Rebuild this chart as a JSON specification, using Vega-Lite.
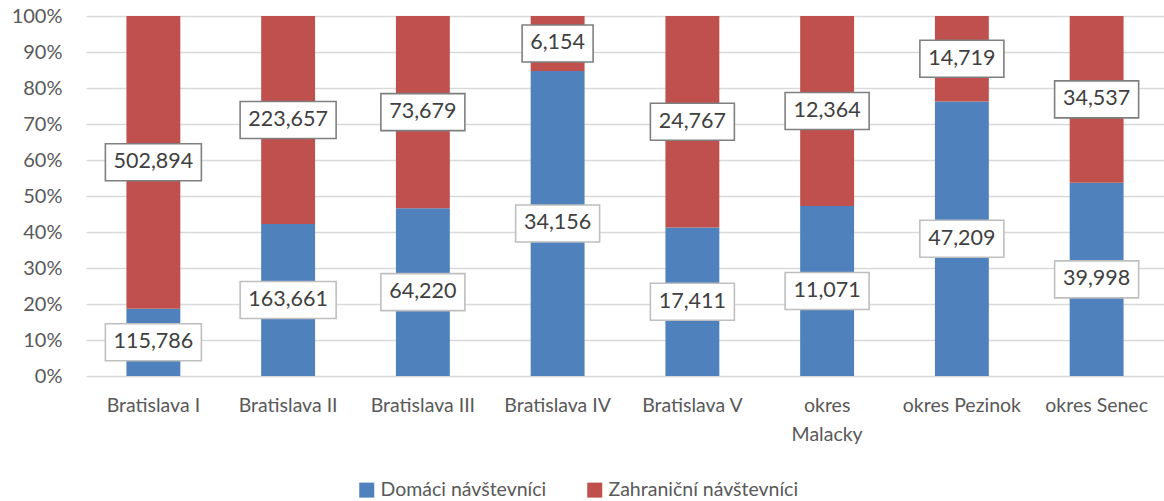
{
  "$schema": "https://vega.github.io/schema/vega-lite/v6.json",
  "width": 1078,
  "height": 360,
  "autosize": "none",
  "padding": {"left": 86, "top": 16, "right": 0, "bottom": 125},
  "background": "white",
  "config": {"view": {"stroke": null}, "font": "Lato"},
  "data": {
    "values": [
      {"district": "Bratislava I", "type": "Domáci návštevníci", "value": 115786},
      {"district": "Bratislava I", "type": "Zahraniční návštevníci", "value": 502894},
      {"district": "Bratislava II", "type": "Domáci návštevníci", "value": 163661},
      {"district": "Bratislava II", "type": "Zahraniční návštevníci", "value": 223657},
      {"district": "Bratislava III", "type": "Domáci návštevníci", "value": 64220},
      {"district": "Bratislava III", "type": "Zahraniční návštevníci", "value": 73679},
      {"district": "Bratislava IV", "type": "Domáci návštevníci", "value": 34156},
      {"district": "Bratislava IV", "type": "Zahraniční návštevníci", "value": 6154},
      {"district": "Bratislava V", "type": "Domáci návštevníci", "value": 17411},
      {"district": "Bratislava V", "type": "Zahraniční návštevníci", "value": 24767},
      {"district": "okres Malacky", "type": "Domáci návštevníci", "value": 11071},
      {"district": "okres Malacky", "type": "Zahraniční návštevníci", "value": 12364},
      {"district": "okres Pezinok", "type": "Domáci návštevníci", "value": 47209},
      {"district": "okres Pezinok", "type": "Zahraniční návštevníci", "value": 14719},
      {"district": "okres Senec", "type": "Domáci návštevníci", "value": 39998},
      {"district": "okres Senec", "type": "Zahraniční návštevníci", "value": 34537}
    ]
  },
  "encoding": {
    "x": {
      "field": "district",
      "type": "nominal",
      "sort": ["Bratislava I", "Bratislava II", "Bratislava III", "Bratislava IV", "Bratislava V", "okres Malacky", "okres Pezinok", "okres Senec"],
      "scale": {"paddingInner": 0.6, "paddingOuter": 0.3},
      "axis": {
        "title": null,
        "labelAngle": 0,
        "domain": false,
        "ticks": false,
        "grid": false,
        "labelFont": "Lato",
        "labelFontSize": 19.5,
        "labelColor": "#595959",
        "labelPadding": 20,
        "labelLineHeight": 29,
        "labelOverlap": false,
        "labelLimit": 0,
        "labelExpr": "datum.label == 'okres Malacky' ? ['okres', 'Malacky'] : datum.label"
      }
    },
    "order": {"field": "type", "sort": "ascending"}
  },
  "layer": [
    {
      "mark": {"type": "bar"},
      "encoding": {
        "y": {
          "field": "value",
          "type": "quantitative",
          "stack": "normalize",
          "scale": {"domain": [0, 1]},
          "axis": {"title": null, "values": [0, 0.1, 0.2, 0.3, 0.4, 0.5, 0.6, 0.7, 0.8, 0.9, 1], "format": ".0%", "domain": false, "ticks": false, "grid": true, "gridColor": "#d9d9d9", "gridWidth": 1.3, "labelFont": "Lato", "labelFontSize": 20, "labelColor": "#595959", "labelPadding": 24, "labelOverlap": false}
        },
        "color": {
          "field": "type",
          "type": "nominal",
          "scale": {"domain": ["Domáci návštevníci", "Zahraniční návštevníci"], "range": ["#4f81bd", "#c0504d"]},
          "legend": {
            "title": null,
            "orient": "none",
            "legendX": 271,
            "legendY": 464,
            "direction": "horizontal",
            "symbolType": "square",
            "symbolSize": 225,
            "symbolStrokeWidth": 0,
            "symbolOpacity": 1,
            "labelFont": "Lato",
            "labelFontSize": 19.5,
            "labelColor": "#595959",
            "labelOffset": 4,
            "labelLimit": 0,
            "columnPadding": 38
          }
        }
      }
    },
    {
      "mark": {"type": "point", "shape": "M-48,-18.5H48V18.5H-48Z", "size": 4, "fill": "white", "fillOpacity": 1, "strokeWidth": 1.6},
      "encoding": {
        "y": {"field": "value", "type": "quantitative", "stack": "normalize", "bandPosition": 0.5, "scale": {"domain": [0, 1]}, "axis": {"title": null, "values": [0, 0.1, 0.2, 0.3, 0.4, 0.5, 0.6, 0.7, 0.8, 0.9, 1], "format": ".0%", "domain": false, "ticks": false, "grid": true, "gridColor": "#d9d9d9", "gridWidth": 1.3, "labelFont": "Lato", "labelFontSize": 20, "labelColor": "#595959", "labelPadding": 24, "labelOverlap": false}},
        "detail": {"field": "type"},
        "stroke": {"condition": {"test": "datum.type === 'Domáci návštevníci'", "value": "#bfbfbf"}, "value": "#7f7f7f"},
        "opacity": {"condition": {"test": "datum.value >= 100000", "value": 1}, "value": 0}
      }
    },
    {
      "mark": {"type": "point", "shape": "M-42,-18.5H42V18.5H-42Z", "size": 4, "fill": "white", "fillOpacity": 1, "strokeWidth": 1.6},
      "encoding": {
        "y": {"field": "value", "type": "quantitative", "stack": "normalize", "bandPosition": 0.5, "scale": {"domain": [0, 1]}, "axis": {"title": null, "values": [0, 0.1, 0.2, 0.3, 0.4, 0.5, 0.6, 0.7, 0.8, 0.9, 1], "format": ".0%", "domain": false, "ticks": false, "grid": true, "gridColor": "#d9d9d9", "gridWidth": 1.3, "labelFont": "Lato", "labelFontSize": 20, "labelColor": "#595959", "labelPadding": 24, "labelOverlap": false}},
        "detail": {"field": "type"},
        "stroke": {"condition": {"test": "datum.type === 'Domáci návštevníci'", "value": "#bfbfbf"}, "value": "#7f7f7f"},
        "opacity": {"condition": {"test": "datum.value >= 10000 && datum.value < 100000", "value": 1}, "value": 0}
      }
    },
    {
      "mark": {"type": "point", "shape": "M-35.5,-18.5H35.5V18.5H-35.5Z", "size": 4, "fill": "white", "fillOpacity": 1, "strokeWidth": 1.6},
      "encoding": {
        "y": {"field": "value", "type": "quantitative", "stack": "normalize", "bandPosition": 0.5, "scale": {"domain": [0, 1]}, "axis": {"title": null, "values": [0, 0.1, 0.2, 0.3, 0.4, 0.5, 0.6, 0.7, 0.8, 0.9, 1], "format": ".0%", "domain": false, "ticks": false, "grid": true, "gridColor": "#d9d9d9", "gridWidth": 1.3, "labelFont": "Lato", "labelFontSize": 20, "labelColor": "#595959", "labelPadding": 24, "labelOverlap": false}},
        "detail": {"field": "type"},
        "stroke": {"condition": {"test": "datum.type === 'Domáci návštevníci'", "value": "#bfbfbf"}, "value": "#7f7f7f"},
        "opacity": {"condition": {"test": "datum.value < 10000", "value": 1}, "value": 0}
      }
    },
    {
      "mark": {"type": "text", "font": "Lato", "fontSize": 21.5, "color": "#404040", "baseline": "middle", "align": "center"},
      "encoding": {
        "y": {"field": "value", "type": "quantitative", "stack": "normalize", "bandPosition": 0.5, "scale": {"domain": [0, 1]}, "axis": {"title": null, "values": [0, 0.1, 0.2, 0.3, 0.4, 0.5, 0.6, 0.7, 0.8, 0.9, 1], "format": ".0%", "domain": false, "ticks": false, "grid": true, "gridColor": "#d9d9d9", "gridWidth": 1.3, "labelFont": "Lato", "labelFontSize": 20, "labelColor": "#595959", "labelPadding": 24, "labelOverlap": false}},
        "detail": {"field": "type"},
        "text": {"field": "value", "type": "quantitative", "format": ",d"}
      }
    }
  ]
}
